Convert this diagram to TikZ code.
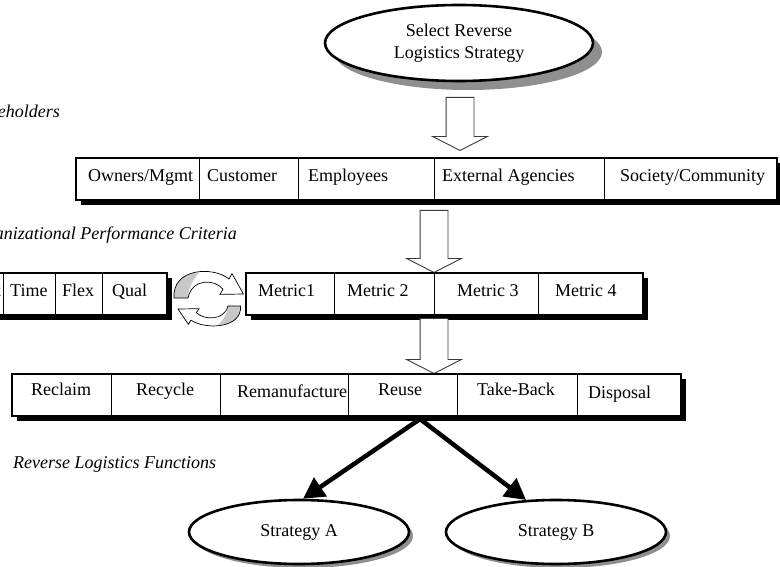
\documentclass[tikz,border=0pt]{standalone}
\usepackage{fontspec}
\setmainfont{Liberation Serif}
\usetikzlibrary{shapes.geometric, shapes.arrows, arrows.meta, positioning, shadows}
\usepackage{xcolor}
\definecolor{shadowgrey}{HTML}{8f8f8f}
\definecolor{facegrey}{HTML}{c8c8c8}
\definecolor{flowgrey}{HTML}{3a3a3a}
\tikzset{
  goalnode/.style={ellipse, draw=black, line width=2.6pt, fill=white,
                   minimum width=268pt, minimum height=76pt, inner sep=0pt,
                   align=center, font=\fontsize{18}{22}\selectfont,
                   drop shadow={fill=shadowgrey, opacity=1, shadow xshift=9pt, shadow yshift=-9pt}},
  stratnode/.style={ellipse, draw=black, line width=2.6pt, fill=white,
                    minimum width=220pt, minimum height=64pt, inner sep=0pt,
                    font=\fontsize{18}{22}\selectfont,
                    drop shadow={fill=shadowgrey, opacity=1, shadow xshift=4pt, shadow yshift=-4pt}},
  barbox/.style={rectangle, draw=black, line width=1.3pt, fill=white,
                 minimum height=42pt, inner sep=0pt, outer sep=0pt,
                 drop shadow={fill=black, opacity=1, shadow xshift=5pt, shadow yshift=-5pt}},
  cellbox/.style={rectangle, draw=black, line width=0.9pt,
                  minimum height=42pt, inner sep=0pt, outer sep=0pt},
  celltext/.style={anchor=base west, inner sep=0pt, font=\fontsize{18}{22}\selectfont},
  layertext/.style={anchor=base west, inner sep=0pt, font=\fontsize{18}{22}\selectfont\itshape},
  flow/.style={single arrow, draw=flowgrey, fill=white, line width=0.9pt,
               rotate=-90, anchor=tail, inner xsep=0pt, inner ysep=13.5pt,
               minimum width=54pt, single arrow head extend=13.5pt,
               single arrow tip angle=126},
  choice/.style={-{Triangle[length=21pt,width=22pt]}, line width=4.5pt},
  cyclearrow/.pic={
    \fill[white] (-35,0) .. controls (-37,-30) and (4,-32) .. (20,-19)
      -- (23,-24.4) -- (34.4,-4) -- (11,-3.6) -- (14,-8.8)
      .. controls (6,-19) and (-17,-20) .. (-21,0) -- cycle;
    \fill[facegrey] (-35,0) .. controls (-36,-16) and (-25,-25) .. (-10,-25.5)
      .. controls (-16,-18) and (-21,-10) .. (-21,0) -- cycle;
    \draw[line width=0.7pt] (-35,0) .. controls (-37,-30) and (4,-32) .. (20,-19)
      -- (23,-24.4) -- (34.4,-4) -- (11,-3.6) -- (14,-8.8)
      .. controls (6,-19) and (-17,-20) .. (-21,0) -- cycle;
  },
}

\begin{document}
\begin{tikzpicture}[x=1pt, y=-1pt]
  \useasboundingbox (0,0) rectangle (780,567);
  \clip (0,0) rectangle (780,567);

  % --- Goal ---
  \node[goalnode] (goal) at (459,43) {Select Reverse\\Logistics Strategy};
  \node[flow, minimum height=53pt] (flow1) at (460,97) {};

  % --- Stakeholders ---
  \node[layertext, anchor=base east] (stakelbl) at (60,118) {Stakeholders};
  \node[barbox, minimum width=701pt, anchor=north west] (stakebar) at (76,158) {};
  \node[cellbox, minimum width=123pt, anchor=north west] (own) at (76,158) {};
  \node[cellbox, minimum width=99pt,  right=0pt of own]  (cust) {};
  \node[cellbox, minimum width=136pt, right=0pt of cust] (emp) {};
  \node[cellbox, minimum width=170pt, right=0pt of emp]  (ext) {};
  \node[cellbox, minimum width=173pt, right=0pt of ext]  (soc) {};
  \node[celltext] (town)  at (88,182)  {Owners/Mgmt};
  \node[celltext] (tcust) at (207,182) {Customer};
  \node[celltext] (temp)  at (308,182) {Employees};
  \node[celltext] (text)  at (442,182) {External Agencies};
  \node[celltext] (tsoc)  at (620,182) {Society/Community};

  \node[flow, minimum height=62pt] (flow2) at (434,210) {};

  % --- Performance criteria and metrics ---
  \node[layertext, anchor=base east] (critlbl) at (237,240) {Organizational Performance Criteria};
  \node[barbox, minimum width=227pt, anchor=north west] (critbar) at (-60,273) {};
  \node[cellbox, minimum width=63pt, anchor=north west] (cost) at (-60,273) {};
  \node[cellbox, minimum width=52pt, right=0pt of cost] (time) {};
  \node[cellbox, minimum width=47pt, right=0pt of time] (flex) {};
  \node[cellbox, minimum width=65pt, right=0pt of flex] (qual) {};
  \node[celltext, anchor=base east] (tcost) at (1,296) {Cost};
  \node[celltext] (ttime) at (10,296)  {Time};
  \node[celltext] (tflex) at (62,296)  {Flex};
  \node[celltext] (tqual) at (112,296) {Qual};

  \pic at (209,298) {cyclearrow};
  \pic[rotate=180, xscale=0.9, yscale=0.75] at (209,306) {cyclearrow};

  \node[barbox, minimum width=397pt, anchor=north west] (metbar) at (246,273) {};
  \node[cellbox, minimum width=88pt, anchor=north west] (met1) at (246,273) {};
  \node[cellbox, minimum width=100pt, right=0pt of met1] (met2) {};
  \node[cellbox, minimum width=104pt, right=0pt of met2] (met3) {};
  \node[cellbox, minimum width=105pt, right=0pt of met3] (met4) {};
  \node[celltext] (tmet1) at (258,296) {Metric1};
  \node[celltext] (tmet2) at (347,296) {Metric 2};
  \node[celltext] (tmet3) at (457,296) {Metric 3};
  \node[celltext] (tmet4) at (555,296) {Metric 4};

  \node[flow, minimum height=55pt] (flow3) at (434,318) {};

  % --- Reverse logistics functions ---
  \node[barbox, minimum width=669pt, anchor=north west] (funcbar) at (12,374) {};
  \node[cellbox, minimum width=99pt, anchor=north west] (recl) at (12,374) {};
  \node[cellbox, minimum width=109pt, right=0pt of recl]  (recy) {};
  \node[cellbox, minimum width=128pt, right=0pt of recy]  (reman) {};
  \node[cellbox, minimum width=109pt, right=0pt of reman] (reuse) {};
  \node[cellbox, minimum width=120pt, right=0pt of reuse] (take) {};
  \node[cellbox, minimum width=104pt, right=0pt of take]  (disp) {};
  \node[celltext] (trecl)  at (31,395)  {Reclaim};
  \node[celltext] (trecy)  at (136,395) {Recycle};
  \node[celltext] (treman) at (237,397) {Remanufacture};
  \node[celltext] (treuse) at (378,395) {Reuse};
  \node[celltext] (ttake)  at (477,395) {Take-Back};
  \node[celltext] (tdisp)  at (588,398) {Disposal};
  \node[layertext] (funclbl) at (13,468) {Reverse Logistics Functions};

  % --- Strategies ---
  \node[stratnode] (stratA) at (299,532) {Strategy A};
  \node[stratnode] (stratB) at (556,532) {Strategy B};
  \coordinate (fork) at (420,419);
  \draw[choice] (fork) -- (stratA.83);
  \draw[choice] (fork) -- (stratB.133);

\end{tikzpicture}
\end{document}
